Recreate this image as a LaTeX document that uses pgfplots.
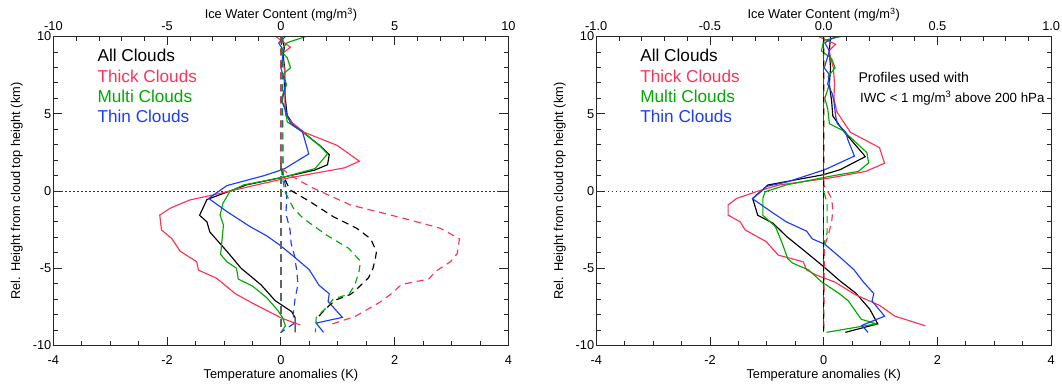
\documentclass[border=0pt]{standalone}
\usepackage{fontspec}
\setmainfont{Liberation Sans}
\usepackage{pgfplots}
\pgfplotsset{compat=1.18}
\definecolor{cred}{RGB}{255,50,85}
\definecolor{cgreen}{RGB}{0,170,0}
\definecolor{cblue}{RGB}{25,60,255}
\definecolor{cgray}{RGB}{100,100,100}
\newcommand{\fs}{\fontsize{12.8}{15}\selectfont}
\newcommand{\fl}{\fontsize{17.2}{20}\selectfont}
\newcommand{\fa}{\fontsize{14.1}{17}\selectfont}
\newcommand{\fb}{\fontsize{13.3}{16}\selectfont}
\pgfplotsset{
  panel/.style={
    scale only axis, width=455pt, height=309pt,
    ymin=-10, ymax=10,
    tick align=inside,
    major tick length=9pt, minor tick length=4.5pt,
    axis line style={line width=1.1pt, black!85},
    every tick/.style={black!85, line width=0.8pt},
    tick label style={font=\fs},
    label style={font=\fs},
    /pgf/number format/assume math mode=true,
  },
  temp/.style={panel,
    xmin=-4, xmax=4, xtick={-4,-2,0,2,4}, minor x tick num=3,
    ytick={-10,-5,0,5,10}, minor y tick num=4,
    xtick pos=bottom, ytick pos=both, yticklabel pos=left,
    xlabel={Temperature anomalies (K)},
    ylabel={Rel. Height from cloud top height (km)},
    xlabel style={at={([yshift=-30pt]axis description cs:0.5,0)}, anchor=center},
    ylabel style={at={([xshift=-36.5pt]axis description cs:0,0.5)}, anchor=center},
    xticklabel style={yshift=-7pt},
    yticklabel style={xshift=1.5pt},
  },
  iwc/.style={panel, hide y axis, xtick pos=top, xticklabel pos=top,
    xlabel={Ice Water Content (mg/m\textsuperscript{3})},
    xlabel style={at={([yshift=21.5pt]axis description cs:0.5,1)}, anchor=center},
    xticklabel style={yshift=2.8pt},
  },
  sol/.style={line width=1.15pt},
  das/.style={line width=1.15pt, dash pattern=on 7pt off 5pt},
  zer/.style={black!80, line width=0.9pt, dash pattern=on 1.2pt off 2.8pt},
}
\begin{document}
\begin{tikzpicture}
\path[use as bounding box] (-53.4pt,-37.5pt) rectangle (1008.6pt,345.5pt);
% ================= LEFT PANEL =================
\begin{axis}[temp, at={(0pt,0pt)}, anchor=south west]
\addplot[zer] coordinates {(-4,0) (4,0)};
\addplot[sol, black] coordinates {(0.02,10) (0.06,9.3) (0.04,8.8) (0.07,7.8) (0.06,6.9) (0.08,5.9) (0.11,4.9) (0.2,4.4) (0.41,3.75) (0.73,2.8) (0.85,2.35) (0.82,1.7) (0.59,1.35) (0.05,0.9) (-0.6,0.4) (-1.3,-0.55) (-1.43,-1.57) (-1.3,-2.0) (-1.25,-2.65) (-0.95,-3.9) (-0.7,-5.0) (-0.35,-6.07) (-0.1,-7.1) (0.19,-7.81) (0.25,-8.2) (0.25,-9.15)};
\addplot[sol, cred] coordinates {(-0.09,10) (0.17,9.3) (0.02,8.9) (0.06,7.9) (0.08,6.9) (0.07,5.8) (0.08,4.9) (0.2,4.4) (0.41,3.8) (0.99,2.95) (1.38,1.93) (1.12,1.5) (0.0,0.75) (-0.43,0.39) (-1.2,-0.26) (-1.6,-0.58) (-1.95,-1.12) (-2.13,-1.56) (-2.1,-2.52) (-1.92,-3.07) (-1.77,-3.9) (-1.48,-4.58) (-1.45,-5.12) (-1.13,-5.65) (-0.8,-6.65) (-0.48,-7.3) (0.02,-8.24) (0.34,-8.67)};
\addplot[sol, cgreen] coordinates {(0.44,10) (0.11,9.6) (0.0,9.07) (0.11,8.63) (0.17,7.98) (0.03,7.54) (0.1,6.89) (0.0,5.91) (0.08,5.35) (0.11,4.48) (0.38,3.82) (0.68,2.95) (0.82,2.4) (0.6,1.45) (0.05,0.9) (-0.66,0.39) (-0.9,-0.05) (-1.02,-0.8) (-1.07,-1.56) (-1.01,-2.2) (-1.06,-4.1) (-0.95,-4.58) (-0.78,-5.0) (-0.75,-5.7) (-0.5,-6.15) (-0.25,-6.9) (-0.05,-7.75) (0.03,-8.2) (0.08,-8.73) (0.0,-9.15)};
\addplot[sol, cblue] coordinates {(0.08,10) (-0.04,9.58) (0.05,9.07) (0.0,7.95) (0.08,6.93) (0.02,5.8) (0.11,4.9) (0.17,4.38) (0.38,3.82) (0.49,2.4) (0.05,1.41) (-0.3,0.99) (-0.95,0.35) (-1.27,-0.48) (-0.95,-1.33) (-0.54,-2.31) (-0.25,-2.9) (-0.02,-3.5) (0.23,-4.25) (0.5,-5.1) (0.67,-6.1) (0.85,-6.65) (0.83,-7.15) (1.08,-8.18) (0.62,-8.55) (0.75,-9.15)};
\node[anchor=west, font=\fl, black] at ([xshift=40.6pt,yshift=-19.3pt]rel axis cs:0,1) {All Clouds};
\node[anchor=west, font=\fl, cred] at ([xshift=40.6pt,yshift=-39.6pt]rel axis cs:0,1) {Thick Clouds};
\node[anchor=west, font=\fl, cgreen] at ([xshift=40.6pt,yshift=-59.9pt]rel axis cs:0,1) {Multi Clouds};
\node[anchor=west, font=\fl, cblue] at ([xshift=40.6pt,yshift=-80.2pt]rel axis cs:0,1) {Thin Clouds};
\end{axis}
\begin{axis}[iwc, at={(0pt,0pt)}, anchor=south west,
  xmin=-10, xmax=10, xtick={-10,-5,0,5,10}, minor x tick num=4]
\addplot[cgray, line width=1.6pt, dash pattern=on 8pt off 5pt] coordinates {(0,1.8) (0,-9.15)};
\addplot[das, cblue] coordinates {(0.05,10) (0.1,1.0) (0.25,0.05) (0.25,-0.65) (0.22,-1.46) (0.4,-2.5) (0.45,-3.4) (0.6,-4.2) (0.7,-5.2) (0.75,-6.05) (0.62,-7.0) (0.55,-7.9) (0.55,-8.6) (0.03,-9.12)};
\addplot[das, black] coordinates {(0.0,10) (0.0,1.5) (0.1,1.0) (0.4,0.07) (1.28,-0.69) (2.3,-1.66) (3.33,-2.41) (3.95,-3.1) (4.2,-3.93) (4.15,-4.4) (4.05,-5.0) (3.85,-5.62) (3.3,-6.4) (3.05,-6.7) (2.4,-7.06) (2.1,-7.45) (1.6,-8.2) (1.55,-8.35)};
\addplot[das, cred] coordinates {(0.0,10) (0.0,1.5) (0.4,1.04) (0.9,0.6) (1.4,0.2) (3.05,-0.9) (5.4,-1.77) (7.0,-2.41) (7.85,-3.1) (7.75,-4.05) (7.45,-4.58) (6.8,-5.2) (6.5,-5.7) (5.3,-6.05) (4.9,-6.6) (4.35,-7.2) (3.25,-8.13) (2.1,-8.68)};
\addplot[das, cgreen] coordinates {(0.05,10) (0.05,1) (0.18,-0.05) (0.55,-1.12) (0.98,-1.77) (2.0,-2.85) (2.98,-3.71) (3.5,-4.55) (3.43,-5.25) (3.25,-6.07) (3.0,-6.67) (2.3,-7.0) (2.0,-7.55) (1.55,-8.2) (1.52,-9.15)};
\end{axis}
% ================= RIGHT PANEL =================
\begin{axis}[temp, at={(542.8pt,0pt)}, anchor=south west]
\addplot[zer] coordinates {(-4,0) (4,0)};
\addplot[sol, black] coordinates {(0.12,10) (0.1,9.07) (0.12,7.97) (0.1,6.92) (0.14,5.79) (0.16,4.86) (0.34,3.91) (0.7,2.37) (0.73,2.22) (0.29,1.38) (-0.01,1.05) (-0.98,0.39) (-1.25,-0.48) (-1.16,-1.57) (-0.89,-2.09) (-0.65,-2.95) (-0.33,-3.9) (0.0,-4.9) (0.28,-5.8) (0.57,-6.63) (0.81,-7.65) (0.95,-8.6) (0.38,-9.15)};
\addplot[sol, cred] coordinates {(-0.09,10) (0.21,9.5) (0.09,9.07) (0.17,7.97) (0.19,6.92) (0.18,6.0) (0.23,5.13) (0.47,3.8) (0.98,2.81) (1.07,1.8) (0.74,1.27) (0.09,0.83) (-0.78,0.39) (-1.19,-0.05) (-1.53,-0.48) (-1.68,-0.9) (-1.68,-1.56) (-1.47,-1.99) (-1.38,-2.52) (-1.01,-3.28) (-0.8,-4.15) (-0.36,-4.58) (-0.3,-5.11) (-0.13,-5.44) (0.2,-5.9) (0.55,-6.7) (0.98,-7.4) (1.25,-8.1) (1.51,-8.4) (1.79,-8.73)};
\addplot[sol, cgreen] coordinates {(0.3,10) (0.0,9.74) (-0.04,9.07) (0.14,8.56) (0.2,7.97) (0.08,7.43) (0.1,6.92) (0.02,5.99) (0.07,5.34) (0.1,4.35) (0.34,3.91) (0.76,2.48) (0.79,1.82) (0.61,1.27) (0.09,0.94) (-0.66,0.39) (-1.03,-0.05) (-1.07,-0.48) (-1.07,-1.57) (-0.85,-2.3) (-0.74,-3.28) (-0.63,-4.4) (-0.54,-4.68) (-0.27,-5.1) (-0.03,-5.9) (0.27,-6.63) (0.43,-7.1) (0.66,-8.3) (0.92,-8.6) (0.05,-9.15)};
\addplot[sol, cblue] coordinates {(0.21,10) (0.02,9.59) (0.1,9.07) (0.01,7.97) (0.1,7.53) (0.07,6.92) (0.15,6.3) (0.18,5.79) (0.21,4.86) (0.24,4.35) (0.39,3.8) (0.42,3.36) (0.54,2.26) (0.02,1.38) (-0.63,0.6) (-1.0,0.3) (-1.25,-0.5) (-0.9,-1.4) (-0.66,-1.99) (-0.3,-2.6) (-0.2,-3.1) (0.02,-3.45) (0.29,-4.3) (0.53,-5.09) (0.7,-5.9) (0.88,-6.63) (0.85,-7.12) (1.07,-8.1) (0.67,-8.7) (0.78,-9.15)};
\node[anchor=west, font=\fl, black] at ([xshift=40.6pt,yshift=-19.3pt]rel axis cs:0,1) {All Clouds};
\node[anchor=west, font=\fl, cred] at ([xshift=40.6pt,yshift=-39.6pt]rel axis cs:0,1) {Thick Clouds};
\node[anchor=west, font=\fl, cgreen] at ([xshift=40.6pt,yshift=-59.9pt]rel axis cs:0,1) {Multi Clouds};
\node[anchor=west, font=\fl, cblue] at ([xshift=40.6pt,yshift=-80.2pt]rel axis cs:0,1) {Thin Clouds};
\node[anchor=west, font=\fa, black] at ([xshift=258.8pt,yshift=-41pt]rel axis cs:0,1) {Profiles used with};
\node[anchor=west, font=\fb, black] at ([xshift=260.5pt,yshift=-62pt]rel axis cs:0,1) {IWC < 1 mg/m\textsuperscript{3} above 200 hPa};
\end{axis}
\begin{axis}[iwc, at={(542.8pt,0pt)}, anchor=south west,
  xmin=-1, xmax=1, xtick={-1,-0.5,0,0.5,1}, minor x tick num=4,
  xticklabel style={/pgf/number format/.cd, fixed, fixed zerofill, precision=1}]
\addplot[das, cgreen] coordinates {(0.0,10) (0.0,0) (0.015,-0.8) (0.015,-2.7) (0.0,-3.5) (0.0,-9.15)};
\addplot[das, cred] coordinates {(0.0,10) (0.0,0.4) (0.035,-0.48) (0.04,-1.23) (0.035,-2.0) (0.02,-2.85) (0.003,-3.6) (0.0,-9.15)};
\addplot[das, black] coordinates {(0.0,10) (0.0,-9.15)};
\addplot[das, cblue, dash phase=6pt] coordinates {(0.0,10) (0.0,-9.15)};
\end{axis}
\end{tikzpicture}
\end{document}
